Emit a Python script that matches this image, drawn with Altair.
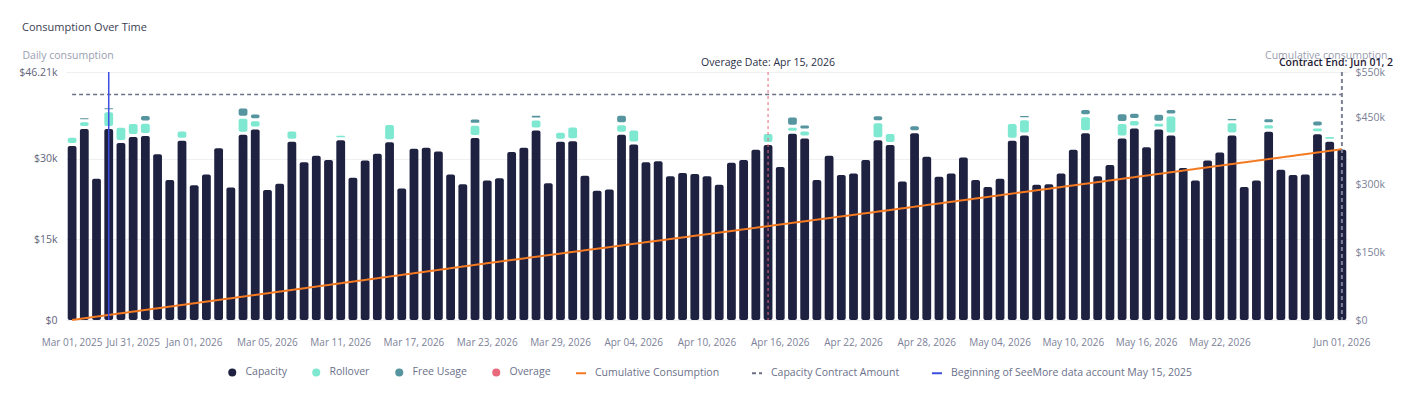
import altair as alt
import pandas as pd

# ---------------- data ----------------
capacity_k = [
    32.4, 35.6, 26.3, 35.6, 33.0, 34.1, 34.3, 30.9, 26.1, 33.4,
    25.1, 27.1, 32.0, 24.7, 34.5, 35.5, 24.2, 25.4, 33.2, 29.4,
    30.6, 29.8, 33.5, 26.5, 29.7, 31.0, 33.1, 24.5, 31.9, 32.1,
    31.4, 27.1, 25.3, 33.9, 26.0, 26.4, 31.3, 32.1, 35.3, 25.5,
    33.2, 33.3, 26.9, 24.1, 24.3, 34.5, 32.7, 29.4, 29.6, 26.8,
    27.4, 27.2, 26.8, 25.2, 29.3, 29.8, 31.7, 32.6, 28.5, 34.7,
    33.8, 26.1, 30.6, 27.0, 27.3, 29.8, 33.5, 32.6, 25.8, 34.8,
    30.4, 26.7, 27.3, 30.3, 26.1, 24.8, 26.3, 33.4, 34.4, 25.2,
    25.3, 27.3, 31.7, 34.8, 26.8, 28.9, 33.8, 35.7, 32.2, 35.5,
    34.4, 28.3, 26.0, 29.7, 31.2, 34.4, 24.8, 26.0, 35.1, 28.0,
    27.0, 27.1, 34.6, 33.2, 31.7,
]

rollover_idx = [0, 1, 3, 4, 5, 6, 9, 14, 15, 18, 22, 26, 33, 38, 40, 41, 45, 46,
                57, 59, 60, 66, 67, 77, 78, 83, 86, 87, 89, 90, 95, 98, 102, 103]
rollover_val = [990, 690, 2550, 2240, 1860, 1730, 1170, 2420, 990, 1360, 280, 2660,
                1730, 1300, 1120, 1990, 1250, 2050, 1490, 560, 750, 2610, 1490, 2550,
                2240, 2420, 2180, 800, 500, 2980, 1680, 610, 500, 320]

free_idx = [1, 3, 6, 14, 15, 33, 38, 45, 59, 60, 66, 69, 78, 83, 86, 87, 89, 90, 95, 98, 102]
free_val = [190, 190, 880, 1360, 690, 610, 320, 1170, 1360, 560, 750, 750, 240, 800,
            1250, 800, 1120, 610, 240, 560, 750]

cumulative_k = [
    0.0, 3.8, 7.5, 11.2, 14.9, 18.6, 22.3, 26.0, 29.7, 33.4,
    37.1, 40.8, 44.5, 48.2, 51.9, 55.6, 59.3, 63.0, 66.7, 70.4,
    74.1, 77.8, 81.5, 85.2, 88.9, 92.6, 96.3, 100.0, 103.7, 107.4,
    111.1, 114.8, 118.5, 122.2, 125.9, 129.5, 133.1, 136.6, 140.3, 143.8,
    147.4, 151.0, 154.6, 158.1, 161.6, 165.3, 168.9, 172.5, 176.0, 179.6,
    183.2, 186.7, 190.3, 193.8, 197.4, 201.0, 204.6, 208.2, 211.8, 215.4,
    219.0, 222.5, 226.1, 229.7, 233.2, 236.8, 240.4, 244.0, 247.6, 251.2,
    254.9, 258.5, 262.1, 265.8, 269.4, 273.0, 276.7, 280.4, 284.0, 287.6,
    291.2, 294.9, 298.5, 302.2, 305.8, 309.5, 313.1, 316.8, 320.4, 324.0,
    327.7, 331.3, 335.0, 338.6, 342.3, 345.9, 349.6, 353.2, 356.9, 360.5,
    364.2, 367.8, 371.5, 375.1, 378.8,
]

x_label_idx = [0, 5, 10, 16, 22, 28, 34, 40, 46, 52, 58, 64, 70, 76, 82, 88, 94, 104]
x_label_text = ["Mar 01, 2025", "Jul 31, 2025", "Jan 01, 2026", "Mar 05, 2026",
                "Mar 11, 2026", "Mar 17, 2026", "Mar 23, 2026", "Mar 29, 2026",
                "Apr 04, 2026", "Apr 10, 2026", "Apr 16, 2026", "Apr 22, 2026",
                "Apr 28, 2026", "May 04, 2026", "May 10, 2026", "May 16, 2026",
                "May 22, 2026", "Jun 01, 2026"]

bar_kinds = ["Capacity", "Rollover", "Free Usage", "Overage"]
bar_colors = ["#1f2141", "#7ee8d1", "#56949f", "#e8697b"]

line_series = ["Cumulative Consumption", "Capacity Contract Amount",
               "Beginning of SeeMore data account May 15, 2025"]
line_colors = ["#f47a22", "#6c7085", "#3d4fe2"]
line_dashes = [[1, 0], [4, 3], [1, 0]]

left_max = 46210
right_max = 550000
contract_amount = 500000
seemore_idx = 3
overage_idx = 57
contract_end_idx = 104

# ---------------- tables ----------------
GAP = 560  # visual gap between stacked segments (in $)
roll = dict(zip(rollover_idx, rollover_val))
free = dict(zip(free_idx, free_val))
rows = []
for i, c in enumerate(capacity_k):
    top = c * 1000
    rows.append(dict(idx=i, kind="Capacity", y0=0, y1=top))
    if i in roll:
        y0 = top + GAP
        top = y0 + roll[i]
        rows.append(dict(idx=i, kind="Rollover", y0=y0, y1=top))
    if i in free:
        y0 = top + GAP
        top = y0 + free[i]
        rows.append(dict(idx=i, kind="Free Usage", y0=y0, y1=top))
bar_df = pd.DataFrame(rows)

cum_df = pd.DataFrame({"idx": list(range(len(cumulative_k))),
                       "value": [v * 1000 for v in cumulative_k],
                       "series": line_series[0]})
contract_df = pd.DataFrame({"idx": [0], "idx2": [contract_end_idx],
                            "value": [contract_amount], "series": [line_series[1]]})
seemore_df = pd.DataFrame({"idx": [seemore_idx], "series": [line_series[2]]})
overage_df = pd.DataFrame({"idx": [overage_idx], "label": ["Overage Date: Apr 15, 2026"]})
end_df = pd.DataFrame({"idx": [contract_end_idx], "label": ["Contract End: Jun 01, 2026"]})

W, H = 1282, 248
FONT = "Open Sans"
LABEL = "#7c8197"

label_array = "[" + ",".join(
    "'" + (x_label_text[x_label_idx.index(i)] if i in x_label_idx else "") + "'"
    for i in range(len(capacity_k))) + "]"

x_scale = alt.Scale(paddingInner=0.28, paddingOuter=0.14)
x_axis = alt.Axis(values=x_label_idx, labelExpr=label_array + "[datum.value]",
                  labelAngle=0, ticks=False, tickSize=0, domain=False, grid=False,
                  labelPadding=17, labelColor=LABEL, labelFontSize=10,
                  labelOverlap=False, title=None)

left_axis = alt.Axis(values=[0, 15000, 30000, left_max],
                     labelExpr="datum.value == 0 ? '$0' : datum.value == 46210 ? '$46.21k' : '$' + datum.value/1000 + 'k'",
                     ticks=False, domain=False, grid=True, gridColor="#eff0f4",
                     labelPadding=9, labelColor="#5f647a", labelFontSize=10.5,
                     title="Daily consumption", titleAngle=0, titleAlign="left",
                     titleX=-44, titleY=-17, titleBaseline="middle",
                     titleColor="#9a9eb0", titleFontSize=10.5, titleFontWeight="normal")

right_axis = alt.Axis(values=[0, 150000, 300000, 450000, right_max],
                      labelExpr="'$' + (datum.value == 0 ? '0' : datum.value/1000 + 'k')",
                      orient="right", ticks=False, domain=False, grid=False,
                      labelPadding=7, labelColor=LABEL, labelFontSize=10.5,
                      title="Cumulative consumption", titleAngle=0, titleAlign="right",
                      titleX=39, titleY=-17, titleBaseline="middle",
                      titleColor="#9a9eb0", titleFontSize=10.5, titleFontWeight="normal")

color_legend = alt.Legend(orient="none", legendX=161, legendY=295, direction="horizontal",
                          title=None, symbolType="circle", symbolSize=64,
                          symbolStrokeWidth=0, labelFontSize=10.5, labelColor="#6b7089",
                          columnPadding=24, labelOffset=8, labelLimit=400)
stroke_legend = alt.Legend(orient="none", legendX=509, legendY=295, direction="horizontal",
                           title=None, symbolType="stroke", symbolSize=100,
                           symbolStrokeWidth=2, labelFontSize=10.5, labelColor="#6b7089",
                           columnPadding=28, labelOffset=8, labelLimit=400)
stroke_scale = alt.Scale(domain=line_series, range=line_colors)
dash_scale = alt.Scale(domain=line_series, range=line_dashes)

x_enc = alt.X("idx:O", scale=x_scale, axis=x_axis)

bars = alt.Chart(bar_df).mark_bar(cornerRadius=2).encode(
    x=x_enc,
    y=alt.Y("y1:Q", scale=alt.Scale(domain=[0, left_max], nice=False), axis=left_axis),
    y2="y0:Q",
    color=alt.Color("kind:N", scale=alt.Scale(domain=bar_kinds, range=bar_colors),
                    legend=color_legend),
)

right_y = alt.Scale(domain=[0, right_max], nice=False)

cum_line = alt.Chart(cum_df).mark_line(strokeWidth=2).encode(
    x=x_enc,
    y=alt.Y("value:Q", scale=right_y, axis=right_axis),
    stroke=alt.Stroke("series:N", scale=stroke_scale, legend=stroke_legend),
    strokeDash=alt.StrokeDash("series:N", scale=dash_scale, legend=stroke_legend),
)

contract_rule = alt.Chart(contract_df).mark_rule(strokeWidth=1.5).encode(
    x=x_enc,
    x2="idx2:O",
    y=alt.Y("value:Q", scale=right_y, axis=right_axis),
    stroke=alt.Stroke("series:N", scale=stroke_scale, legend=stroke_legend),
    strokeDash=alt.StrokeDash("series:N", scale=dash_scale, legend=stroke_legend),
)

seemore_rule = alt.Chart(seemore_df).mark_rule(strokeWidth=1.5).encode(
    x=x_enc,
    y=alt.value(0), y2=alt.value(H),
    stroke=alt.Stroke("series:N", scale=stroke_scale, legend=stroke_legend),
    strokeDash=alt.StrokeDash("series:N", scale=dash_scale, legend=stroke_legend),
)

overage_rule = alt.Chart(overage_df).mark_rule(strokeWidth=1, strokeDash=[3, 3],
                                               color="#e8697b").encode(
    x=x_enc, y=alt.value(0), y2=alt.value(H))

end_rule = alt.Chart(end_df).mark_rule(strokeWidth=2, strokeDash=[4, 3],
                                       color="#7b8096").encode(
    x=x_enc, y=alt.value(0), y2=alt.value(H))

overage_text = alt.Chart(overage_df).mark_text(
    fontSize=10.5, fontWeight=500, color="#2b2f48", baseline="middle", align="center"
).encode(x=x_enc, y=alt.value(-9), text="label:N")

end_text = alt.Chart(end_df).mark_text(
    fontSize=10.5, fontWeight=600, color="#1f2236", baseline="middle", align="left",
    dx=-63, limit=120, ellipsis="\u200b"
).encode(x=x_enc, y=alt.value(-9), text="label:N")

right_group = alt.layer(cum_line, contract_rule, seemore_rule, overage_rule, end_rule,
                        overage_text, end_text)

chart = alt.layer(bars, right_group).resolve_scale(y="independent").properties(
    width=W, height=H,
    title=alt.TitleParams("Consumption Over Time", anchor="start", frame="group",
                          dx=-44, offset=17, fontSize=11, fontWeight="normal",
                          color="#3a3e52"),
    autosize=alt.AutoSizeParams(type="none"),
    padding={"left": 58, "top": 64, "right": 55, "bottom": 70},
).configure(font=FONT).configure_view(stroke=None)

chart.save("out.html", embed_options={"renderer": "svg", "actions": False})
